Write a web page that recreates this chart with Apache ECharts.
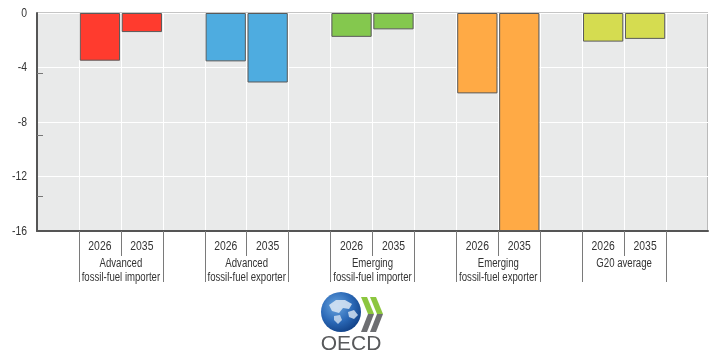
<!DOCTYPE html>
<html>
<head>
<meta charset="utf-8">
<script src="https://cdn.jsdelivr.net/npm/echarts@6/dist/echarts.min.js"></script>
<style>
  html, body { margin: 0; padding: 0; background: #ffffff; }
  #chart { width: 716px; height: 356px; }
</style>
</head>
<body>
<div id="chart"></div>
<script>
// Change by 2026 and 2035, by country group
const groups = ['Advanced\nfossil-fuel importer', 'Advanced\nfossil-fuel exporter',
                'Emerging\nfossil-fuel importer', 'Emerging\nfossil-fuel exporter', 'G20 average'];
const years = ['2026', '2035'];
const values2026 = [-3.5, -3.55, -1.75, -5.9, -2.1];
const values2035 = [-1.4, -5.1, -1.2, -16, -1.9];
const groupColors = ['#ff3b2e', '#4eace0', '#84c84e', '#ffaa45', '#d5dc50'];
const yTickLabels = ['0', '-4', '-8', '-12', '-16'];
const yTicks = { min: -16, max: 0, interval: 4 };
const yMinorTicks = [-4.45, -8.95, -13.45];

// Each group takes two bands, with an empty band before it and one at the end
const categories = [];
const barData = [];
const groupCentres = [];
const groupEdges = [];
groups.forEach((g, i) => {
  categories.push('');
  barData.push(null);
  const start = categories.length;
  groupEdges.push(start, start + 2);
  groupCentres.push(start + 1);
  [values2026[i], values2035[i]].forEach((v, k) => {
    categories.push(years[k]);
    barData.push({ value: v, itemStyle: { color: groupColors[i] } });
  });
});
categories.push('');
barData.push(null);
const nBands = categories.length;

// narrow sans look: regular sans squeezed horizontally
const font = '"Liberation Sans", Arial, sans-serif';
const squeeze = 0.8;
const textColor = '#333333';
const plot = { left: 37, right: 8, top: 13, bottom: 125 };
const stripTop = 356 - plot.bottom - 1;
const chart = echarts.init(document.getElementById('chart'), null, { renderer: 'canvas' });

const tickStyle = { color: '#7a7a7a', width: 1 };
chart.setOption({
  animation: false,
  grid: [
    // main plot
    Object.assign({ show: true, backgroundColor: '#e9eaea', borderColor: '#8a8a8a', borderWidth: 1 }, plot),
    // thin strips along the plot bottom carrying the separators
    { left: plot.left, right: plot.right, top: stripTop, height: 1 },
    { left: plot.left, right: plot.right, top: stripTop, height: 1 },
    // overlay of the main plot for the extra left-hand ticks
    Object.assign({}, plot)
  ],
  xAxis: [
    {
      type: 'category', gridIndex: 0, data: categories, position: 'bottom',
      axisLine: { show: true, onZero: false, lineStyle: { color: '#555555', width: 2 } },
      axisTick: { show: false },
      splitLine: { show: true, interval: 0, lineStyle: { color: '#ffffff', width: 1 } },
      axisLabel: { show: false }
    },
    {
      type: 'value', gridIndex: 1, min: 0, max: nBands, position: 'bottom',
      axisLine: { show: false, onZero: false }, splitLine: { show: false }, axisLabel: { show: false },
      axisTick: { show: true, customValues: groupEdges, length: 51, lineStyle: tickStyle }
    },
    {
      type: 'value', gridIndex: 2, min: 0, max: nBands, position: 'bottom',
      axisLine: { show: false, onZero: false }, splitLine: { show: false }, axisLabel: { show: false },
      axisTick: { show: true, customValues: groupCentres, length: 25, lineStyle: tickStyle }
    },
    { type: 'value', gridIndex: 3, min: 0, max: nBands, show: false }
  ],
  yAxis: [
    {
      type: 'value', gridIndex: 0, min: yTicks.min, max: yTicks.max, interval: yTicks.interval,
      axisLine: { show: true, onZero: false, lineStyle: { color: '#555555', width: 2 } },
      axisTick: { show: false },
      splitLine: { show: true, lineStyle: { color: '#ffffff', width: 1 } },
      axisLabel: { show: false }
    },
    { type: 'value', gridIndex: 1, min: 0, max: 1, show: false },
    { type: 'value', gridIndex: 2, min: 0, max: 1, show: false },
    {
      type: 'value', gridIndex: 3, min: yTicks.min, max: yTicks.max, position: 'left',
      axisLine: { show: false, onZero: false }, splitLine: { show: false }, axisLabel: { show: false },
      axisTick: { show: true, inside: true, length: 6, customValues: yMinorTicks,
                  lineStyle: { color: '#777777', width: 1 } }
    }
  ],
  series: [{
    type: 'bar', xAxisIndex: 0, yAxisIndex: 0,
    data: barData, barWidth: '96%',
    itemStyle: { borderColor: '#5a5a5a', borderWidth: 1 }
  }]
});

// Axis texts, placed through the axes' own scales
const texts = [];
const bottomY = chart.convertToPixel({ yAxisIndex: 0 }, yTicks.min);
categories.forEach((c, i) => {
  if (!c) return;
  texts.push({
    type: 'text', x: chart.convertToPixel({ xAxisIndex: 0 }, i), y: bottomY + 15, scaleX: squeeze,
    silent: true,
    style: { text: c, fill: textColor, fontSize: 13, fontFamily: font, textAlign: 'center', textVerticalAlign: 'middle' }
  });
});
groupCentres.forEach((b, i) => {
  texts.push({
    type: 'text', x: chart.convertToPixel({ xAxisIndex: 1 }, b), y: bottomY + 26, scaleX: squeeze,
    silent: true,
    style: { text: groups[i], fill: textColor, fontSize: 12, lineHeight: 14, fontFamily: font,
             textAlign: 'center', textVerticalAlign: 'top' }
  });
});
yTickLabels.forEach(t => {
  texts.push({
    type: 'text', x: plot.left - 10, y: chart.convertToPixel({ yAxisIndex: 0 }, Number(t)), scaleX: squeeze,
    silent: true,
    style: { text: t, fill: textColor, fontSize: 13, fontFamily: font, textAlign: 'right', textVerticalAlign: 'middle' }
  });
});

// OECD logo
const logo = {
  type: 'group', x: 321, y: 292, silent: true, children: [
    { type: 'circle', shape: { cx: 20, cy: 20, r: 20 },
      style: { fill: new echarts.graphic.RadialGradient(0.38, 0.35, 0.75, [
        { offset: 0, color: '#6aa6e0' }, { offset: 0.55, color: '#2a68b6' }, { offset: 1, color: '#0d3a7e' }]) } },
    { type: 'polygon', shape: { points: [[8, 13], [15, 8], [24, 8], [31, 12], [28, 17], [22, 16], [18, 21], [11, 19]] },
      style: { fill: 'rgba(220,232,245,0.85)' } },
    { type: 'polygon', shape: { points: [[27, 20], [33, 18], [37, 23], [33, 27], [28, 25]] },
      style: { fill: 'rgba(220,232,245,0.8)' } },
    { type: 'polygon', shape: { points: [[13, 24], [19, 23], [21, 28], [17, 32], [13, 28]] },
      style: { fill: 'rgba(220,232,245,0.75)' } },
    { type: 'polygon', shape: { points: [[40, 5], [46, 5], [53, 22], [47, 22]] }, style: { fill: '#8cc63f' } },
    { type: 'polygon', shape: { points: [[47, 22], [53, 22], [46, 40], [40, 40]] }, style: { fill: '#6d6e71' } },
    { type: 'polygon', shape: { points: [[49, 5], [55, 5], [62, 22], [56, 22]] }, style: { fill: '#8cc63f' } },
    { type: 'polygon', shape: { points: [[56, 22], [62, 22], [55, 40], [49, 40]] }, style: { fill: '#6d6e71' } },
    { type: 'text', x: 30, y: 63, style: { text: 'OECD', fill: '#58595b', fontSize: 21,
      fontFamily: font, textAlign: 'center', textVerticalAlign: 'bottom' } }
  ]
};

chart.setOption({ graphic: { elements: texts.concat([logo]) } });
</script>
</body>
</html>
